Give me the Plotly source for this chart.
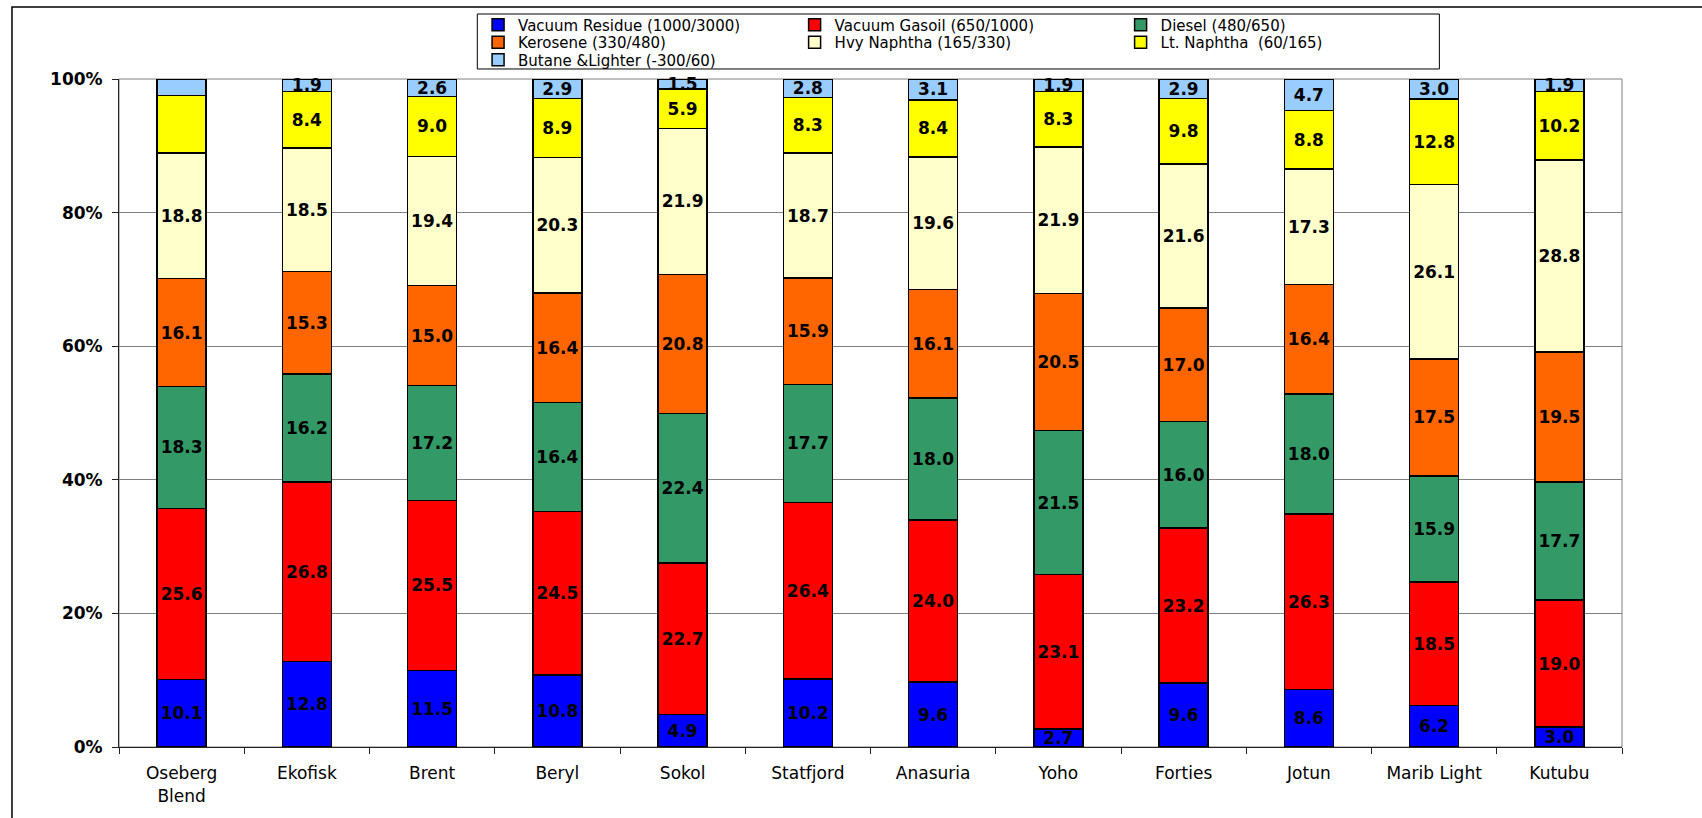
import plotly.graph_objects as go

# ---------------- data ----------------
crudes = ["Oseberg<br>Blend", "Ekofisk", "Brent", "Beryl", "Sokol", "Statfjord",
          "Anasuria", "Yoho", "Forties", "Jotun", "Marib Light", "Kutubu"]

vacuum_residue = [10.1, 12.8, 11.5, 10.8, 4.9, 10.2, 9.6, 2.7, 9.6, 8.6, 6.2, 3.0]
vacuum_gasoil = [25.6, 26.8, 25.5, 24.5, 22.7, 26.4, 24.0, 23.1, 23.2, 26.3, 18.5, 19.0]
diesel = [18.3, 16.2, 17.2, 16.4, 22.4, 17.7, 18.0, 21.5, 16.0, 18.0, 15.9, 17.7]
kerosene = [16.1, 15.3, 15.0, 16.4, 20.8, 15.9, 16.1, 20.5, 17.0, 16.4, 17.5, 19.5]
hvy_naphtha = [18.8, 18.5, 19.4, 20.3, 21.9, 18.7, 19.6, 21.9, 21.6, 17.3, 26.1, 28.8]
lt_naphtha = [8.6, 8.4, 9.0, 8.9, 5.9, 8.3, 8.4, 8.3, 9.8, 8.8, 12.8, 10.2]
butane = [2.5, 1.9, 2.6, 2.9, 1.5, 2.8, 3.1, 1.9, 2.9, 4.7, 3.0, 1.9]

y_tick_values = [0, 20, 40, 60, 80, 100]
y_tick_labels = ["0%", "20%", "40%", "60%", "80%", "100%"]

series_names = ["Vacuum Residue (1000/3000)", "Vacuum Gasoil (650/1000)",
                "Diesel (480/650)", "Kerosene (330/480)", "Hvy Naphtha (165/330)",
                "Lt. Naphtha  (60/165)", "Butane &Lighter (-300/60)"]
series_values = [vacuum_residue, vacuum_gasoil, diesel, kerosene,
                 hvy_naphtha, lt_naphtha, butane]
series_colors = ["#0000FF", "#FF0000", "#339966", "#FF6600",
                 "#FFFFCC", "#FFFF00", "#99CCFF"]
# segments whose value label is not printed in the original (Oseberg Blend)
unlabelled = {"Lt. Naphtha  (60/165)": [0], "Butane &Lighter (-300/60)": [0]}

# legend placement: (legend id, x paper, y paper)
legend_slots = [("legend", 0.2389, 1.1055), ("legend2", 0.4495, 1.1055),
                ("legend3", 0.6664, 1.1055), ("legend4", 0.2389, 1.0793),
                ("legend5", 0.4495, 1.0793), ("legend6", 0.6664, 1.0793),
                ("legend7", 0.2389, 1.0531)]

FONT = "DejaVu Sans"

fig = go.Figure()
for name, vals, col, (lid, lx, ly) in zip(series_names, series_values,
                                          series_colors, legend_slots):
    txt = [f"{v:.1f}" for v in vals]
    for i in unlabelled.get(name, []):
        txt[i] = ""
    fig.add_trace(go.Bar(
        x=crudes, y=vals, name=name, text=txt,
        marker=dict(color=col, line=dict(color="black", width=1.5)),
        textposition="inside", insidetextanchor="middle", textangle=0,
        constraintext="none", cliponaxis=False,
        textfont=dict(family=FONT, size=17, color="black", weight="bold"),
        legend=lid, hoverinfo="skip",
    ))

layout_legends = {}
for lid, lx, ly in legend_slots:
    layout_legends[lid] = dict(x=lx, y=ly, xanchor="left", yanchor="top",
                               bgcolor="rgba(0,0,0,0)", borderwidth=0,
                               font=dict(family=FONT, size=15, color="black"))

fig.update_layout(
    width=1702, height=818,
    margin=dict(l=119, r=80, t=79, b=71, autoexpand=False),
    paper_bgcolor="white", plot_bgcolor="white",
    barmode="stack", barnorm="percent", bargap=0.61,
    uniformtext=dict(minsize=17, mode="show"),
    font=dict(family=FONT, color="black"),
    showlegend=True,
    **layout_legends,
    xaxis=dict(type="category", range=[-0.5, 11.5], showgrid=False,
               showline=True, linecolor="#222", linewidth=1,
               ticks="outside", tickson="boundaries", ticklen=6,
               ticklabelstandoff=11,
               tickcolor="#222", tickfont=dict(family=FONT, size=17, color="black")),
    yaxis=dict(range=[0, 100], tickmode="array", tickvals=y_tick_values,
               ticktext=y_tick_labels, showgrid=True, gridcolor="#808080",
               gridwidth=1, zeroline=False, showline=True, linecolor="#222",
               linewidth=1, ticks="outside", ticklen=6, tickcolor="#222",
               ticklabelstandoff=6,
               tickfont=dict(family=FONT, size=17, color="black", weight="bold")),
    shapes=[
        # plot-area border (gray)
        dict(type="rect", xref="paper", yref="paper", x0=0, x1=1, y0=0, y1=1,
             line=dict(color="#808080", width=1), layer="below"),
        # legend box
        dict(type="rect", xref="paper", yref="paper", x0=0.2384, x1=0.8785,
             y0=1.0150, y1=1.0973, line=dict(color="black", width=1),
             fillcolor="rgba(0,0,0,0)", layer="below"),
        # outer chart frame
        dict(type="rect", xref="paper", yref="paper", x0=-0.0712, x1=1.0585,
             y0=-0.124, y1=1.1078, line=dict(color="black", width=1.5),
             fillcolor="rgba(0,0,0,0)", layer="below"),
    ],
)

fig.write_html("out.html", config={"displayModeBar": False},
               post_script="document.body.style.margin='0';")
